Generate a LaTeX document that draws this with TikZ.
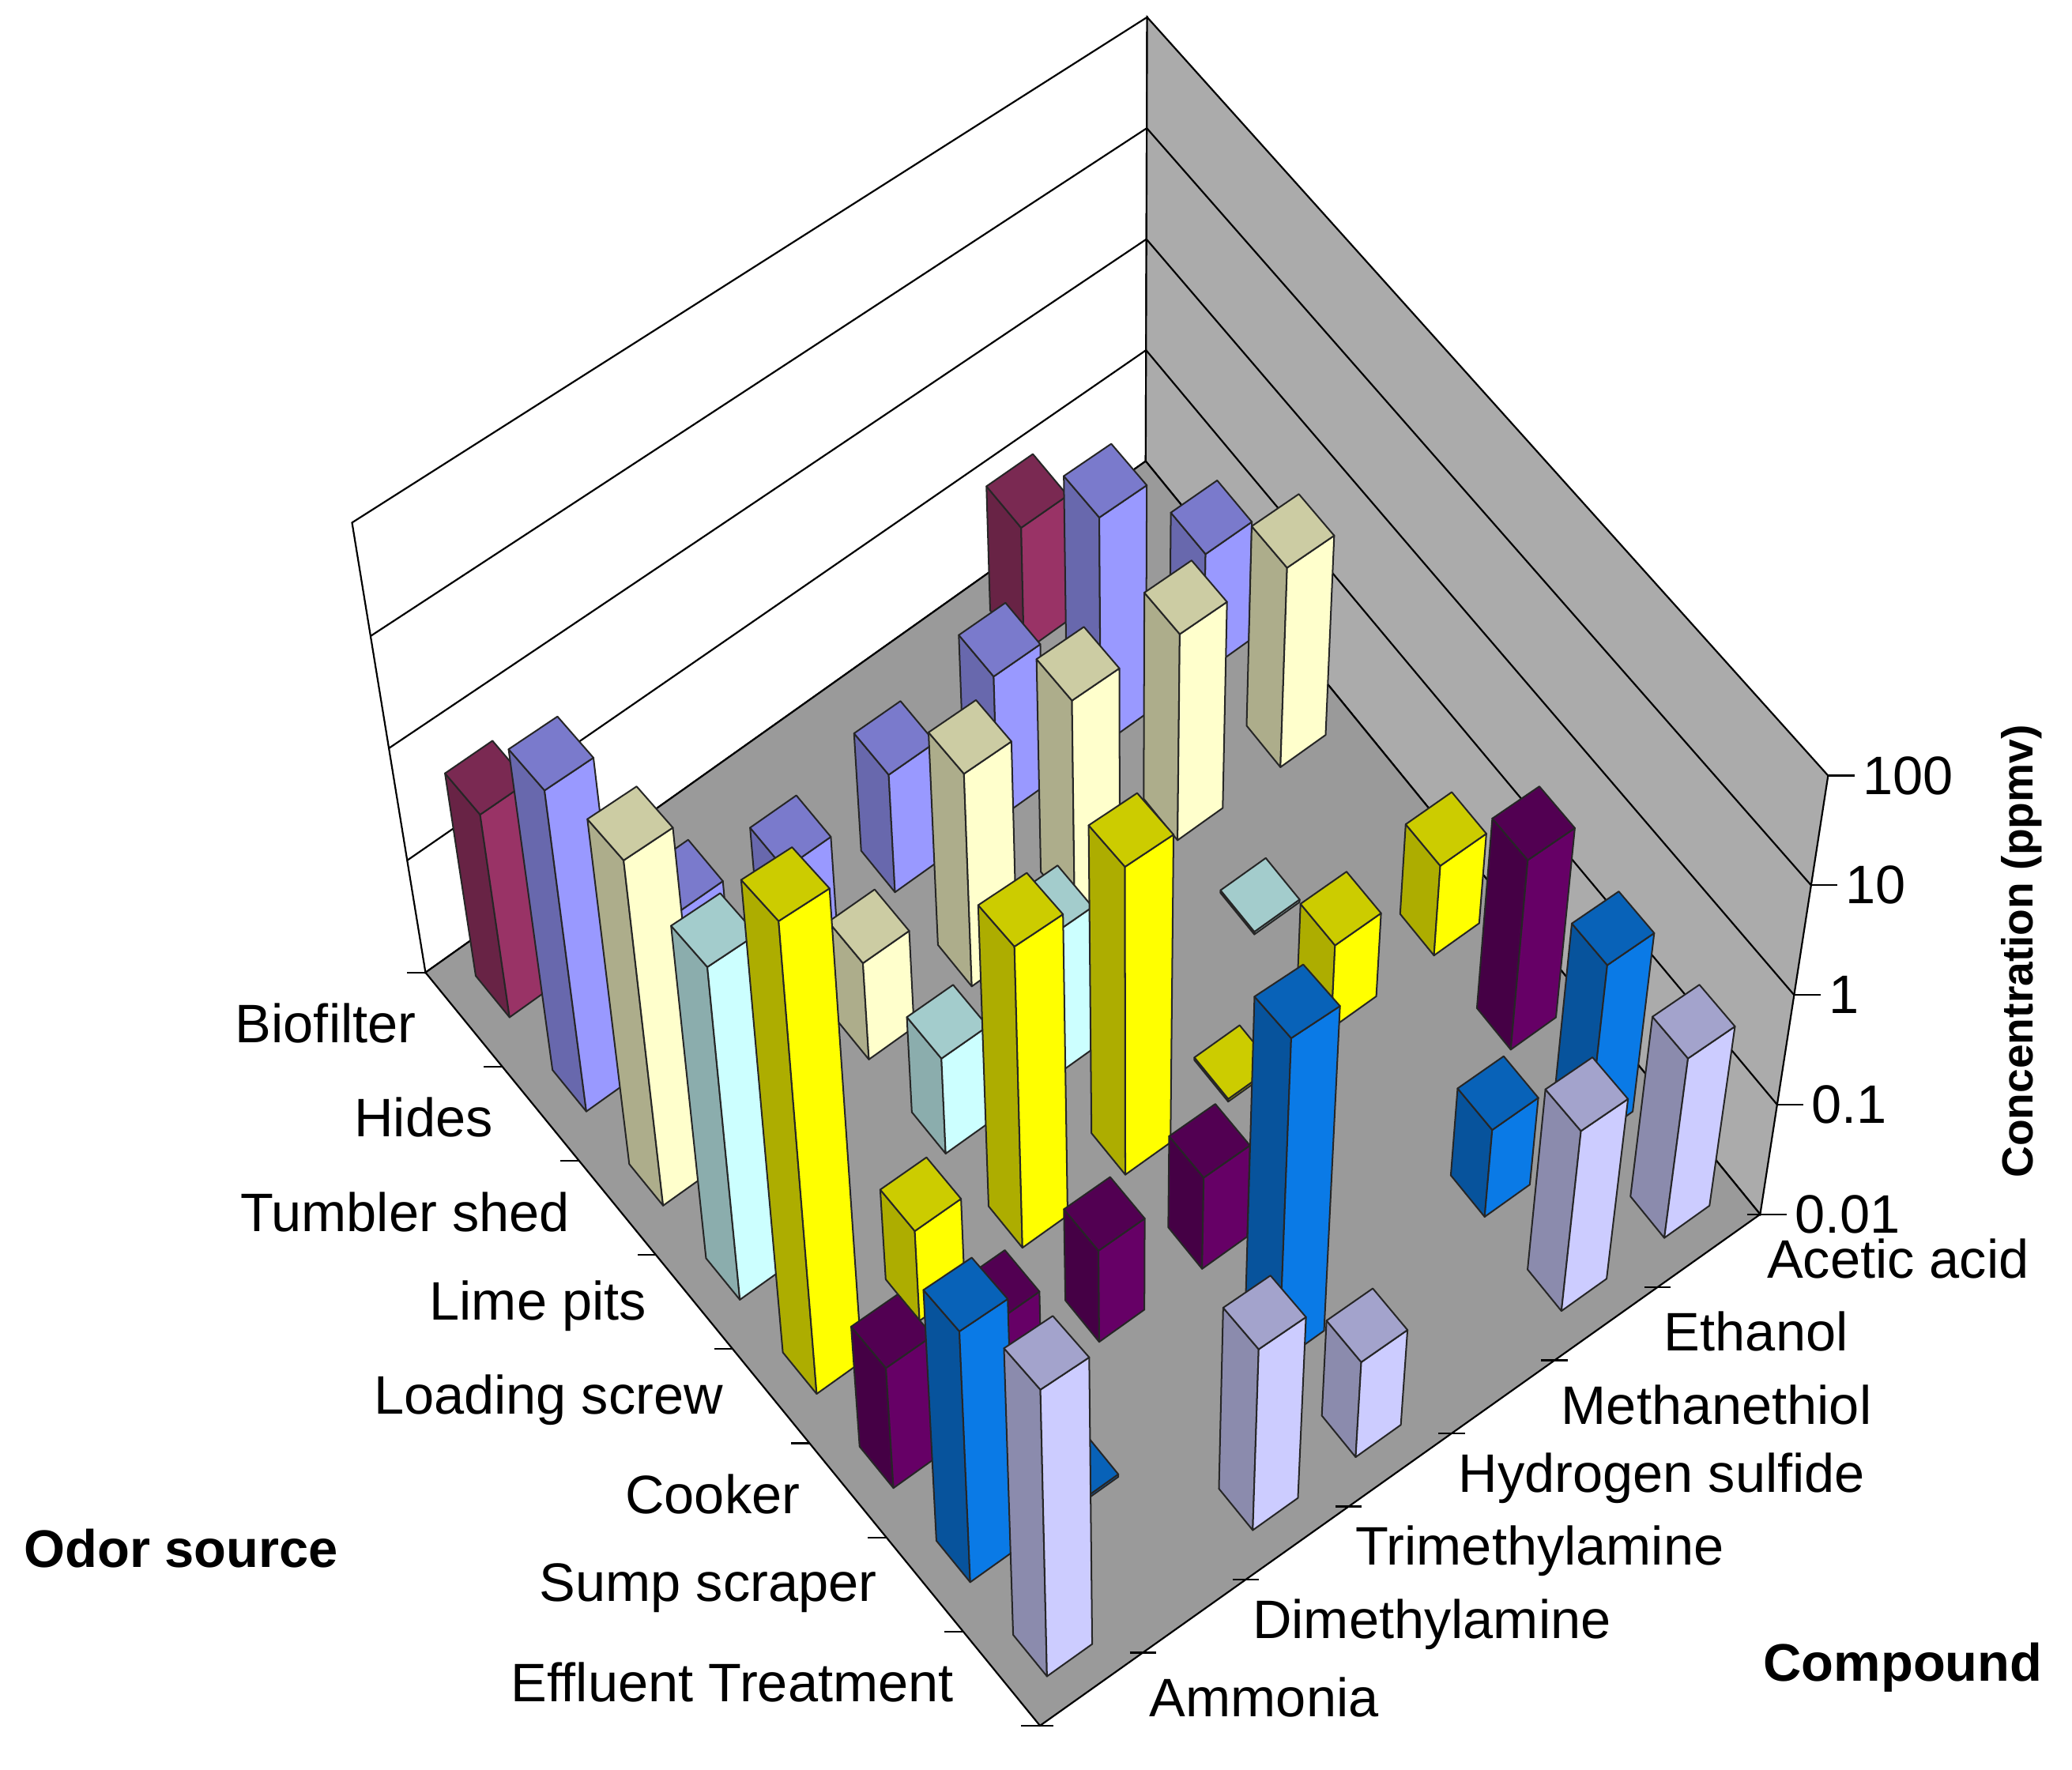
\documentclass[tikz,border=0pt]{standalone}
\usepackage{fontspec}
\setmainfont{Liberation Sans}
\usetikzlibrary{calc}
\definecolor{b0}{HTML}{993366}
\definecolor{b1}{HTML}{9999FF}
\definecolor{b2}{HTML}{FFFFCC}
\definecolor{b3}{HTML}{CCFFFF}
\definecolor{b4}{HTML}{FFFF00}
\definecolor{b5}{HTML}{660066}
\definecolor{b6}{HTML}{0A7AE6}
\definecolor{b7}{HTML}{CCCCFF}
\definecolor{floorc}{HTML}{9A9A9A}
\definecolor{wallc}{HTML}{ABABAB}
\tikzset{
  lbl/.style={font=\fontsize{41}{44}\selectfont, inner sep=0pt},
  ttl/.style={font=\fontsize{40}{44}\selectfont\bfseries, inner sep=0pt},
  edge/.style={draw=black, line width=1.3pt},
  face/.style={draw=black!85, line width=1.2pt, line join=round},
}
\newcommand\mybar[3]{%
  \coordinate (c) at ({389.9+58.1*#1+77.86*#2},{742+71.25*#1-55.3*#2});
  \coordinate (p1) at ($(c)+(-29.9,-3.5)$);
  \coordinate (p2) at ($(c)+(-4.3,27.9)$);
  \coordinate (p3) at ($(c)+(29.9,3.5)$);
  \coordinate (p4) at ($(c)+(4.3,-27.9)$);
  \coordinate (q1) at ($(p1)!-#3pt!(V)$);
  \coordinate (q2) at ($(p2)!-#3pt!(V)$);
  \coordinate (q3) at ($(p3)!-#3pt!(V)$);
  \coordinate (q4) at ($(p4)!-#3pt!(V)$);
  \filldraw[face, fill=b#1!68!black] (p1)--(p2)--(q2)--(q1)--cycle;
  \filldraw[face, fill=b#1] (p2)--(p3)--(q3)--(q2)--cycle;
  \filldraw[face, fill=b#1!80!black] (q1)--(q2)--(q3)--(q4)--cycle;
}
\begin{document}
\begin{tikzpicture}[x=1pt,y=-1pt]
\useasboundingbox[fill=white] (0,0) rectangle (1568,1339);
\coordinate (V) at (855,4000);
\coordinate (L) at (322,736);
\coordinate (F) at (787,1306);
\coordinate (R) at (1332,919);
\coordinate (B) at (867,349);
\coordinate (Lt) at ($(L)!-345pt!(V)$);
\coordinate (Bt) at ($(B)!-336pt!(V)$);
\coordinate (Rt) at ($(R)!-336pt!(V)$);
% walls and floor
\filldraw[edge, fill=white] (L)--(B)--(Bt)--(Lt)--cycle;
\filldraw[edge, fill=wallc] (B)--(R)--(Rt)--(Bt)--cycle;
\filldraw[edge, fill=floorc] (L)--(F)--(R)--(B)--cycle;
\foreach \k in {1,2,3}{
  \draw[edge] ($(L)!-\k*86pt!(V)$) -- ($(B)!-\k*84pt!(V)$) -- ($(R)!-\k*84pt!(V)$);
}
% value axis
\foreach \k/\t in {0/0.01,1/0.1,2/1,3/10,4/100}{
  \coordinate (vt\k) at ($(R)!-\k*84pt!(V)$);
  \draw[edge] (vt\k) -- ++(20,0) coordinate (ve\k);
  \node[lbl, anchor=west] (vl\k) at ($(ve\k)+(6,0)$) {\t};
}
% source ticks and labels
\foreach \k in {0,...,8}{
  \draw[edge] ($(L)+\k*(58.1,71.25)$) -- ++(-14,0);
}
\foreach \i/\t in {0/Biofilter,1/Hides,2/Tumbler shed,3/Lime pits,4/Loading screw,5/Cooker,6/Sump scraper,7/Effluent Treatment}{
  \node[lbl, anchor=east] (s\i) at ($(L)+\i*(58.1,71.25)+(29.05,35.6)+(-36,3)$) {\t};
}
% compound ticks and labels
\foreach \k in {0,...,7}{
  \draw[edge] ($(F)+\k*(77.86,-55.3)$) ++(-10,0) -- ++(20,0);
}
\foreach \j/\t in {0/Ammonia,1/Dimethylamine,2/Trimethylamine,3/Hydrogen sulfide,4/Methanethiol,5/Ethanol,6/Acetic acid}{
  \node[lbl, anchor=west] (cp\j) at ($(F)+\j*(77.86,-55.3)+(38.9,-27.6)+(44,6)$) {\t};
}
% bars (back to front)
\foreach \i/\j/\h in {
 0/5/94, 1/6/90,
 1/5/173, 2/6/151,
 1/4/108, 2/5/156,
 1/3/89, 2/4/161, 3/5/2, 4/6/68,
 1/2/73, 2/3/161, 4/5/63, 5/6/144,
 0/0/155, 1/1/95, 2/2/73, 3/3/107, 4/4/2, 6/6/136,
 1/0/245, 3/2/72, 4/3/233, 6/5/66, 7/6/137,
 2/0/263, 4/2/228, 5/3/69, 7/5/137,
 3/0/253, 4/1/68, 5/2/69, 6/3/246,
 4/0/359, 5/1/69, 7/3/72,
 5/0/91, 6/1/2, 7/2/137,
 6/0/190,
 7/0/217}{
  \mybar{\i}{\j}{\h}
}
% titles
\node[ttl] (t1) at (137,1172) {Odor source};
\node[ttl] (t2) at (1440,1262) {Compound};
\node[font=\fontsize{33}{36}\selectfont\bfseries, inner sep=0pt, rotate=90] (t3) at (1530,720) {Concentration (ppmv)};
\end{tikzpicture}
\end{document}
